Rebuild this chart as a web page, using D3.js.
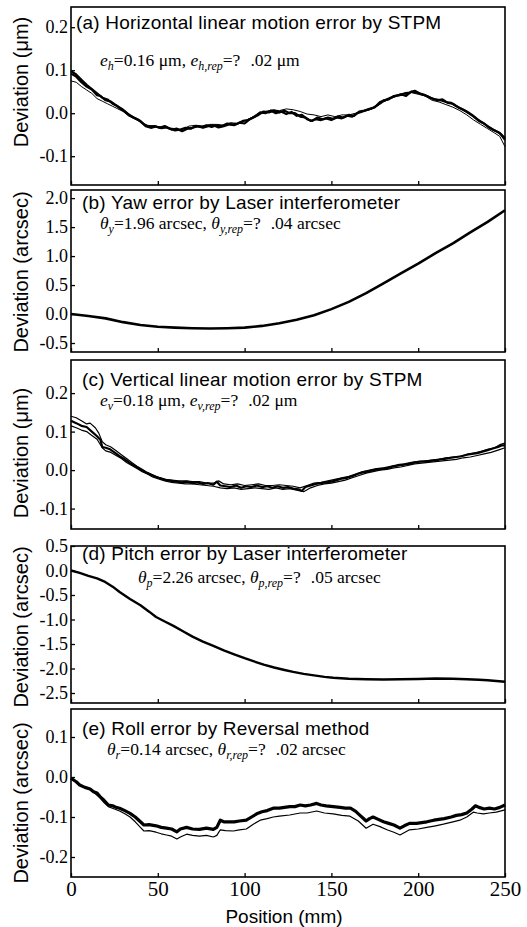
<!DOCTYPE html>
<html>
<head>
<meta charset="utf-8">
<script src="https://cdn.jsdelivr.net/npm/d3@7"></script>
<style>
  body { margin: 0; background: #fff; }
  svg { display: block; }
</style>
</head>
<body>
<svg id="chart" width="527" height="927"></svg>
<script>
// x positions (mm) shared by all panels
const xTicks = [0, 50, 100, 150, 200, 250];

// (a) horizontal linear motion error, um
const aRun1 = [[0,0.092],[3,0.085],[6,0.072],[9,0.062],[12,0.055],[15,0.042],[17,0.040],[20,0.030],[23,0.027],[26,0.018],[28,0.012],[31,0.004],[34,-0.006],[37,-0.012],[40,-0.018],[43,-0.030],[46,-0.034],[49,-0.031],[52,-0.035],[55,-0.033],[58,-0.038],[61,-0.036],[64,-0.042],[67,-0.036],[70,-0.034],[73,-0.030],[76,-0.034],[79,-0.030],[82,-0.028],[85,-0.033],[88,-0.030],[91,-0.026],[94,-0.028],[97,-0.022],[100,-0.024],[103,-0.014],[106,-0.008],[109,0.002],[112,0.000],[115,0.006],[118,0.000],[121,0.004],[124,-0.002],[127,0.003],[130,-0.006],[133,-0.004],[136,-0.014],[139,-0.018],[142,-0.010],[145,-0.014],[148,-0.010],[151,-0.013],[154,-0.008],[157,-0.010],[160,-0.004],[163,-0.006],[166,0.004],[169,0.006],[172,0.010],[175,0.014],[178,0.026],[181,0.030],[184,0.036],[187,0.040],[190,0.044],[193,0.040],[196,0.050],[199,0.048],[202,0.044],[205,0.040],[208,0.034],[211,0.030],[214,0.032],[217,0.024],[220,0.022],[223,0.014],[226,0.008],[229,0.000],[232,-0.008],[235,-0.018],[238,-0.024],[241,-0.034],[244,-0.040],[247,-0.046],[250,-0.062]];
const aRun2 = [[0,0.098],[3,0.090],[6,0.078],[9,0.066],[12,0.056],[15,0.046],[18,0.036],[21,0.032],[24,0.022],[27,0.016],[30,0.008],[33,-0.002],[36,-0.010],[39,-0.016],[42,-0.026],[45,-0.032],[48,-0.030],[51,-0.034],[54,-0.030],[57,-0.036],[60,-0.040],[63,-0.038],[66,-0.034],[69,-0.036],[72,-0.030],[75,-0.032],[78,-0.028],[81,-0.032],[84,-0.028],[87,-0.030],[90,-0.024],[93,-0.026],[96,-0.024],[99,-0.018],[102,-0.016],[105,-0.010],[108,-0.004],[111,0.004],[114,0.002],[117,0.006],[120,0.002],[123,0.006],[126,0.000],[129,0.000],[132,-0.008],[135,-0.010],[138,-0.018],[141,-0.014],[144,-0.016],[147,-0.012],[150,-0.016],[153,-0.010],[156,-0.012],[159,-0.006],[162,-0.008],[165,0.000],[168,0.004],[171,0.008],[174,0.012],[177,0.020],[180,0.030],[183,0.032],[186,0.040],[189,0.042],[192,0.046],[195,0.048],[198,0.052],[201,0.046],[204,0.042],[207,0.036],[210,0.032],[213,0.030],[216,0.026],[219,0.024],[222,0.016],[225,0.010],[228,0.004],[231,-0.004],[234,-0.014],[237,-0.022],[240,-0.030],[243,-0.038],[246,-0.044],[248,-0.050],[250,-0.058]];
const aRun3 = [[0,0.075],[3,0.072],[6,0.062],[9,0.054],[12,0.046],[15,0.034],[18,0.028],[21,0.022],[24,0.016],[27,0.010],[30,0.004],[33,-0.006],[36,-0.012],[40,-0.020],[44,-0.028],[48,-0.030],[52,-0.032],[56,-0.034],[60,-0.036],[64,-0.038],[68,-0.030],[72,-0.028],[76,-0.030],[80,-0.026],[84,-0.026],[88,-0.028],[92,-0.022],[96,-0.024],[100,-0.018],[104,-0.010],[108,0.000],[112,0.004],[116,0.008],[120,0.006],[124,0.010],[128,0.008],[132,0.004],[136,-0.002],[140,-0.004],[144,-0.008],[148,-0.004],[152,-0.008],[156,-0.004],[160,-0.004],[164,0.000],[168,0.006],[172,0.008],[176,0.016],[180,0.026],[184,0.034],[188,0.040],[192,0.042],[196,0.048],[200,0.044],[204,0.040],[208,0.030],[212,0.026],[216,0.020],[220,0.014],[224,0.006],[228,-0.004],[232,-0.016],[236,-0.026],[240,-0.036],[244,-0.046],[247,-0.054],[250,-0.078]];

// (b) yaw error, arcsec
const bRun1 = [[0,0.0],[10,-0.035],[20,-0.075],[30,-0.14],[40,-0.19],[50,-0.22],[60,-0.235],[70,-0.245],[80,-0.25],[90,-0.245],[100,-0.235],[110,-0.205],[120,-0.16],[130,-0.10],[140,-0.02],[150,0.085],[160,0.21],[170,0.36],[180,0.53],[190,0.70],[200,0.87],[210,1.05],[220,1.22],[230,1.41],[240,1.59],[250,1.79]];

// (c) vertical linear motion error, um
const cRun1 = [[0,0.128],[3,0.122],[6,0.115],[9,0.112],[12,0.100],[15,0.088],[17,0.078],[18,0.060],[20,0.058],[22.5,0.054],[25,0.046],[28,0.036],[31,0.028],[34,0.018],[37,0.010],[40,0.002],[43,-0.006],[46,-0.012],[49,-0.018],[52,-0.022],[55,-0.026],[58,-0.028],[61,-0.030],[64,-0.032],[67,-0.030],[70,-0.034],[73,-0.032],[76,-0.036],[79,-0.034],[82,-0.038],[84,-0.030],[86,-0.040],[89,-0.042],[92,-0.044],[95,-0.040],[98,-0.046],[101,-0.042],[104,-0.044],[107,-0.040],[110,-0.044],[113,-0.042],[116,-0.046],[119,-0.042],[122,-0.046],[125,-0.044],[128,-0.048],[131,-0.050],[133,-0.054],[135,-0.044],[138,-0.040],[141,-0.036],[144,-0.034],[147,-0.032],[150,-0.030],[153,-0.026],[156,-0.022],[159,-0.020],[162,-0.016],[165,-0.010],[168,-0.006],[171,-0.004],[174,0.000],[177,0.002],[180,0.004],[183,0.006],[186,0.010],[189,0.012],[192,0.014],[195,0.016],[198,0.020],[201,0.022],[204,0.022],[207,0.024],[210,0.026],[213,0.028],[216,0.030],[219,0.032],[222,0.034],[225,0.036],[228,0.040],[231,0.042],[234,0.044],[237,0.048],[240,0.052],[243,0.056],[246,0.060],[248,0.064],[250,0.064]];
const cRun2 = [[0,0.140],[3,0.136],[6,0.128],[9,0.120],[11,0.122],[14,0.110],[16,0.096],[18,0.074],[20,0.066],[23,0.060],[26,0.050],[29,0.040],[32,0.030],[35,0.020],[38,0.010],[41,0.002],[44,-0.006],[47,-0.012],[50,-0.018],[54,-0.024],[58,-0.026],[62,-0.028],[66,-0.028],[70,-0.030],[74,-0.030],[78,-0.034],[82,-0.034],[85,-0.028],[88,-0.036],[92,-0.038],[96,-0.036],[100,-0.040],[104,-0.038],[108,-0.036],[112,-0.040],[116,-0.040],[120,-0.038],[124,-0.040],[128,-0.042],[132,-0.046],[136,-0.040],[140,-0.034],[144,-0.032],[148,-0.028],[152,-0.024],[156,-0.020],[160,-0.016],[164,-0.010],[168,-0.004],[172,0.000],[176,0.004],[180,0.006],[184,0.010],[188,0.014],[192,0.016],[196,0.020],[200,0.022],[204,0.024],[208,0.026],[212,0.028],[216,0.032],[220,0.034],[224,0.036],[228,0.040],[232,0.044],[236,0.048],[240,0.054],[244,0.058],[247,0.066],[250,0.070]];
const cRun3 = [[0,0.115],[3,0.110],[6,0.104],[9,0.100],[12,0.090],[15,0.080],[18,0.058],[20,0.050],[23,0.046],[26,0.038],[29,0.030],[32,0.020],[35,0.012],[38,0.004],[41,-0.004],[44,-0.010],[47,-0.018],[50,-0.022],[54,-0.028],[58,-0.032],[62,-0.034],[66,-0.036],[70,-0.036],[74,-0.038],[78,-0.040],[82,-0.042],[86,-0.046],[90,-0.048],[94,-0.046],[98,-0.050],[102,-0.048],[106,-0.046],[110,-0.048],[114,-0.050],[118,-0.046],[122,-0.050],[126,-0.048],[130,-0.052],[134,-0.056],[138,-0.046],[142,-0.040],[146,-0.036],[150,-0.034],[154,-0.030],[158,-0.026],[162,-0.020],[166,-0.014],[170,-0.008],[174,-0.004],[178,0.000],[182,0.002],[186,0.006],[190,0.008],[194,0.012],[198,0.016],[202,0.018],[206,0.020],[210,0.022],[214,0.024],[218,0.026],[222,0.028],[226,0.032],[230,0.034],[234,0.038],[238,0.042],[242,0.046],[246,0.052],[250,0.058]];

// (d) pitch error, arcsec
const dRun1 = [[0,0.0],[5,-0.05],[10,-0.11],[15,-0.16],[19,-0.22],[24,-0.33],[28,-0.44],[34,-0.58],[40,-0.71],[45,-0.84],[49,-0.95],[54,-1.04],[59,-1.13],[65,-1.25],[70,-1.35],[76,-1.45],[82,-1.54],[88,-1.63],[94,-1.71],[100,-1.79],[105,-1.85],[111,-1.92],[117,-1.98],[123,-2.03],[128,-2.07],[134,-2.11],[140,-2.14],[146,-2.17],[151,-2.19],[160,-2.21],[170,-2.22],[180,-2.225],[190,-2.22],[200,-2.215],[210,-2.205],[220,-2.21],[228,-2.22],[235,-2.23],[240,-2.24],[245,-2.255],[250,-2.27]];

// (e) roll error, arcsec
const eRun1 = [[0,-0.003],[3,-0.012],[5,-0.020],[8,-0.026],[11,-0.030],[13,-0.037],[15,-0.040],[16.7,-0.049],[19,-0.058],[21.5,-0.070],[24,-0.072],[26,-0.076],[28,-0.078],[31,-0.084],[34,-0.091],[37,-0.100],[40,-0.112],[42,-0.120],[45,-0.119],[49,-0.122],[52,-0.126],[55,-0.128],[58,-0.130],[61,-0.137],[63,-0.130],[66.6,-0.126],[70,-0.130],[74,-0.131],[78,-0.128],[82,-0.131],[84,-0.126],[86,-0.108],[88,-0.112],[91,-0.112],[94,-0.112],[97,-0.110],[101,-0.108],[104,-0.100],[107,-0.092],[110,-0.087],[113,-0.084],[116.5,-0.078],[120,-0.078],[123,-0.076],[126,-0.074],[129,-0.074],[132,-0.070],[135,-0.072],[138,-0.070],[141.5,-0.066],[144,-0.070],[147,-0.072],[151,-0.074],[155,-0.076],[158,-0.078],[161,-0.078],[164,-0.086],[166,-0.094],[168,-0.102],[170,-0.110],[172,-0.104],[174,-0.100],[177,-0.106],[180,-0.112],[183,-0.116],[186,-0.120],[189.5,-0.128],[192,-0.122],[195,-0.116],[199,-0.116],[202,-0.114],[205,-0.112],[209,-0.108],[212,-0.106],[215,-0.104],[219,-0.100],[222,-0.096],[225,-0.094],[228,-0.090],[231,-0.080],[233,-0.072],[235,-0.076],[238,-0.080],[241,-0.078],[244,-0.080],[247,-0.076],[250,-0.070]];
const eRun2 = [[0,-0.003],[3,-0.013],[5,-0.020],[8,-0.027],[11,-0.032],[13,-0.038],[16.7,-0.052],[19,-0.064],[21.5,-0.074],[25,-0.080],[28,-0.085],[31,-0.092],[34,-0.100],[37,-0.112],[40,-0.126],[42,-0.135],[45,-0.134],[49,-0.138],[52,-0.142],[55,-0.145],[58,-0.148],[61,-0.155],[63,-0.150],[66.6,-0.143],[70,-0.146],[74,-0.148],[78,-0.146],[82,-0.150],[84,-0.146],[86,-0.132],[89,-0.134],[93.5,-0.135],[97,-0.132],[101,-0.130],[105,-0.118],[109,-0.108],[113,-0.104],[116.5,-0.100],[120,-0.098],[126,-0.095],[132,-0.090],[136,-0.090],[141.5,-0.085],[146,-0.090],[151,-0.092],[156,-0.096],[160.7,-0.098],[165.5,-0.110],[170,-0.128],[174,-0.118],[178,-0.124],[182,-0.132],[186,-0.138],[189.5,-0.145],[195,-0.132],[200,-0.130],[205,-0.126],[210,-0.122],[214.5,-0.118],[220,-0.112],[224,-0.108],[228,-0.100],[231.7,-0.088],[234,-0.090],[237.5,-0.092],[241,-0.090],[245,-0.088],[250,-0.082]];

// panel layout (pixels) and axis settings
const panels = [
  { top: 7,   bottom: 185, domain: [-0.167, 0.247], yTicks: [-0.1, 0.0, 0.1, 0.2],
    runs: [[aRun1, 2.2], [aRun2, 2.2], [aRun3, 1]], ylabel: "Deviation (μm)", labelY: 82,
    title: "(a) Horizontal linear motion error by STPM", titleX: 76, titleY: 29,
    sub: [["e", "i"], ["h", "s"], ["=0.16 μm, "], ["e", "i"], ["h,rep", "s"], ["=?"], [".02 μm", "g"]], subX: 100, subY: 66 },
  { top: 190, bottom: 352, domain: [-0.655, 2.14], yTicks: [-0.5, 0.0, 0.5, 1.0, 1.5, 2.0],
    runs: [[bRun1, 2.6]], ylabel: "Deviation (arcsec)", labelY: 272,
    title: "(b) Yaw error by Laser interferometer", titleX: 82, titleY: 209,
    sub: [["θ", "i"], ["y", "s"], ["=1.96 arcsec, "], ["θ", "i"], ["y,rep", "s"], ["=?"], [".04 arcsec", "g"]], subX: 100, subY: 229 },
  { top: 360, bottom: 529, domain: [-0.153, 0.286], yTicks: [-0.1, 0.0, 0.1, 0.2],
    runs: [[cRun2, 1.2], [cRun3, 1.2], [cRun1, 2.2]], ylabel: "Deviation (μm)", labelY: 453,
    title: "(c) Vertical linear motion error by STPM", titleX: 82, titleY: 386,
    sub: [["e", "i"], ["v", "s"], ["=0.18 μm, "], ["e", "i"], ["v,rep", "s"], ["=?"], [".02 μm", "g"]], subX: 100, subY: 406 },
  { top: 546, bottom: 703, domain: [-2.704, 0.5], yTicks: [-2.5, -2.0, -1.5, -1.0, -0.5, 0.0, 0.5],
    runs: [[dRun1, 2.4]], ylabel: "Deviation (arcsec)", labelY: 627,
    title: "(d) Pitch error by Laser interferometer", titleX: 82, titleY: 560,
    sub: [["θ", "i"], ["p", "s"], ["=2.26 arcsec, "], ["θ", "i"], ["p,rep", "s"], ["=?"], [".05 arcsec", "g"]], subX: 138, subY: 583 },
  { top: 709, bottom: 877, domain: [-0.25, 0.17], yTicks: [-0.2, -0.1, 0.0, 0.1],
    runs: [[eRun2, 1.2], [eRun1, 3.2]], ylabel: "Deviation (arcsec)", labelY: 803,
    title: "(e) Roll error by Reversal method", titleX: 82, titleY: 735,
    sub: [["θ", "i"], ["r", "s"], ["=0.14 arcsec, "], ["θ", "i"], ["r,rep", "s"], ["=?"], [".02 arcsec", "g"]], subX: 107, subY: 755 }
];

const left = 71, right = 505;
const sans = "'Liberation Sans', Arial, Helvetica, sans-serif";
const serif = "'Liberation Serif', 'Times New Roman', Times, serif";

const svg = d3.select("#chart");
const x = d3.scaleLinear().domain([0, 250]).range([left, right]);

panels.forEach((p, idx) => {
  const y = d3.scaleLinear().domain(p.domain).range([p.bottom, p.top]);
  const g = svg.append("g");
  const last = idx === panels.length - 1;

  // data lines
  const line = d3.line().x(d => x(d[0])).y(d => y(d[1]));
  p.runs.forEach(([run, w]) => {
    g.append("path").datum(run)
      .attr("d", line)
      .attr("fill", "none")
      .attr("stroke", "#000")
      .attr("stroke-width", w)
      .attr("stroke-linejoin", "round");
  });

  // left axis, inward ticks
  const ya = g.append("g").attr("transform", `translate(${left},0)`)
    .call(d3.axisLeft(y).tickValues(p.yTicks).tickSize(-4).tickPadding(3)
      .tickFormat(d => d.toFixed(1)));
  ya.attr("font-family", null).attr("font-size", null);
  ya.select(".domain").remove();
  ya.selectAll("line").attr("stroke-width", 1.3);
  ya.selectAll("text").style("font-family", serif).style("font-size", "18px").attr("fill", "#000");

  // bottom axis, inward ticks
  const xa = g.append("g").attr("transform", `translate(0,${p.bottom})`)
    .call(d3.axisBottom(x).tickValues(xTicks).tickSize(-4).tickPadding(4)
      .tickFormat(last ? d3.format("d") : ""));
  xa.attr("font-family", null).attr("font-size", null);
  xa.select(".domain").remove();
  xa.selectAll("line").attr("stroke-width", 1.3);
  xa.selectAll("text").style("font-family", serif).style("font-size", "21px").attr("fill", "#000");

  // frame
  g.append("rect")
    .attr("x", left).attr("y", p.top)
    .attr("width", right - left).attr("height", p.bottom - p.top)
    .attr("fill", "none").attr("stroke", "#000").attr("stroke-width", 1.6);

  // y label
  g.append("text")
    .attr("transform", `translate(28,${p.labelY}) rotate(-90)`)
    .attr("text-anchor", "middle")
    .style("font-family", sans).style("font-size", "20px")
    .text(p.ylabel);

  // title
  g.append("text")
    .attr("x", p.titleX).attr("y", p.titleY)
    .style("font-family", sans).style("font-size", "19px")
    .style("letter-spacing", "0.2px")
    .text(p.title);

  // subtitle with subscripts
  const st = g.append("text")
    .attr("x", p.subX).attr("y", p.subY)
    .style("font-family", serif).style("font-size", "17.5px");
  let shifted = false;
  p.sub.forEach(([txt, kind]) => {
    const ts = st.append("tspan").text(txt);
    if (kind === "i") ts.attr("font-style", "italic");
    if (kind === "s") {
      ts.attr("font-style", "italic").style("font-size", "12px").attr("dy", 4);
      shifted = true;
    } else if (shifted) {
      ts.attr("dy", -4);
      shifted = false;
    }
    if (kind === "g") ts.attr("dx", 10);
  });
});

// x label
svg.append("text")
  .attr("x", (left + right) / 2 - 4).attr("y", 923)
  .attr("text-anchor", "middle")
  .style("font-family", sans).style("font-size", "19px")
  .text("Position (mm)");
</script>
</body>
</html>
